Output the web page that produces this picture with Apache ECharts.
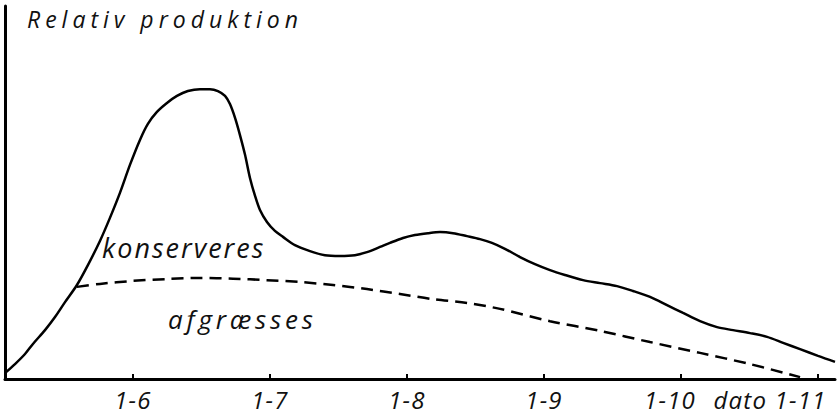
<!DOCTYPE html>
<html>
<head>
<meta charset="utf-8">
<script src="https://cdn.jsdelivr.net/npm/echarts@6/dist/echarts.min.js"></script>
<style>
  html, body { margin: 0; padding: 0; background: #fff; }
  #chart { width: 840px; height: 417px; }
  #chart text[style*="23px"] { letter-spacing: 5px; }
  #chart text[style*="27px"] { letter-spacing: 2px; }
  #chart text[style*="26px"] { letter-spacing: 3.8px; }
  #chart text[style*="24px"] { letter-spacing: 1.2px; }
</style>
</head>
<body>
<div id="chart"></div>
<script>
// x values: month number (1-6 => 6, 1-7 => 7, ...), y values: relative production (0-100)
const tickMonths = [6, 7, 8, 9, 10, 11];
const tickLabels = ['1-6', '1-7', '1-8', '1-9', '1-10', 'dato 1-11'];

const totalMonth = [5.066, 5.139, 5.212, 5.270, 5.358, 5.431, 5.504, 5.591, 5.672, 5.759, 5.832, 5.905, 5.978, 6.051, 6.109, 6.175, 6.248, 6.321, 6.401, 6.489, 6.562, 6.620, 6.672, 6.708, 6.745, 6.781, 6.818, 6.854, 6.891, 6.927, 6.978, 7.036, 7.095, 7.182, 7.292, 7.401, 7.511, 7.620, 7.708, 7.803, 7.876, 7.971, 8.058, 8.153, 8.241, 8.336, 8.438, 8.533, 8.620, 8.715, 8.825, 8.934, 9.044, 9.153, 9.285, 9.409, 9.533, 9.650, 9.774, 9.898, 10.015, 10.139, 10.263, 10.380, 10.504, 10.628, 10.745, 10.869, 11.0, 11.124];
const totalValue = [1.6, 4.0, 6.7, 9.4, 13.1, 16.6, 20.6, 25.2, 30.6, 37.0, 43.2, 49.9, 57.4, 64.1, 68.4, 71.6, 74.0, 75.9, 77.2, 77.7, 77.7, 77.2, 75.9, 73.7, 70.0, 65.4, 60.1, 53.9, 49.1, 45.3, 42.1, 39.7, 38.1, 35.9, 34.3, 33.2, 33.0, 33.2, 34.0, 35.4, 36.5, 37.8, 38.6, 39.1, 39.4, 39.1, 38.3, 37.5, 36.5, 34.9, 32.7, 30.8, 29.2, 27.9, 26.5, 25.7, 24.9, 23.6, 22.0, 19.8, 17.7, 15.5, 13.9, 13.1, 12.3, 11.3, 9.7, 8.0, 6.2, 4.6];

const grazeMonth = [5.591, 5.759, 6.0, 6.248, 6.489, 6.730, 6.978, 7.219, 7.460, 7.708, 7.949, 8.190, 8.438, 8.679, 9.044, 9.409, 9.774, 10.139, 10.504, 10.869];
const grazeValue = [24.7, 25.5, 26.3, 26.8, 27.1, 26.9, 26.5, 26.0, 25.2, 24.1, 22.8, 21.4, 20.4, 18.8, 15.5, 12.9, 9.9, 7.0, 4.0, 0.5];

const titleText = 'Relativ produktion';
const upperLabel = 'konserveres';
const lowerLabel = 'afgræsses';

const FONT = '"Open Sans", "Noto Sans", sans-serif';

const chart = echarts.init(document.getElementById('chart'), null, { renderer: 'svg' });

const zip = (xs, ys) => xs.map((x, i) => [x, ys[i]]);

chart.setOption({
  backgroundColor: '#fff',
  animation: false,
  title: {
    text: titleText,
    left: 27, top: 7, padding: 0,
    textStyle: { fontFamily: FONT, fontStyle: 'italic', fontWeight: 'normal', fontSize: 23, color: '#111' }
  },
  grid: { left: 5, right: 5, top: 6, bottom: 38, containLabel: false },
  xAxis: {
    type: 'value',
    min: 5.066, max: 11.124,
    axisLine: { show: true, onZero: false, lineStyle: { color: '#000', width: 3 } },
    axisTick: { show: true, inside: true, length: 5, customValues: tickMonths, lineStyle: { color: '#000', width: 2 } },
    axisLabel: {
      show: true,
      customValues: tickMonths,
      margin: 8,
      fontFamily: FONT, fontStyle: 'italic', fontSize: 24, color: '#111',
      formatter: function (v) {
        const i = tickMonths.indexOf(Math.round(v));
        const t = tickLabels[i];
        if (i === 4) return '{s|' + t + '}';
        if (i === 5) return '{e|' + t + '}';
        return t;
      },
      rich: {
        s: { fontFamily: FONT, fontStyle: 'italic', fontSize: 24, color: '#111', padding: [0, 22, 0, 0] },
        e: { fontFamily: FONT, fontStyle: 'italic', fontSize: 24, color: '#111', padding: [0, 96, 0, 0] }
      }
    },
    splitLine: { show: false }
  },
  yAxis: {
    type: 'value', min: 0, max: 100,
    axisLine: { show: true, onZero: false, lineStyle: { color: '#000', width: 3 } },
    axisTick: { show: false },
    axisLabel: { show: false },
    splitLine: { show: false }
  },
  series: [
    {
      type: 'line', data: zip(totalMonth, totalValue), smooth: 0.3, showSymbol: false, clip: false,
      lineStyle: { color: '#000', width: 2.5 }
    },
    {
      type: 'line', data: zip(grazeMonth, grazeValue), smooth: 0.3, showSymbol: false, clip: false,
      lineStyle: { color: '#000', width: 2.5, type: [12, 7] }
    }
  ],
  graphic: [
    { type: 'text', left: 102, top: 234, style: { text: upperLabel, fontFamily: FONT, fontStyle: 'italic', fontSize: 27, fill: '#111' } },
    { type: 'text', left: 168, top: 306, style: { text: lowerLabel, fontFamily: FONT, fontStyle: 'italic', fontSize: 26, fill: '#111' } }
  ]
});
</script>
</body>
</html>
